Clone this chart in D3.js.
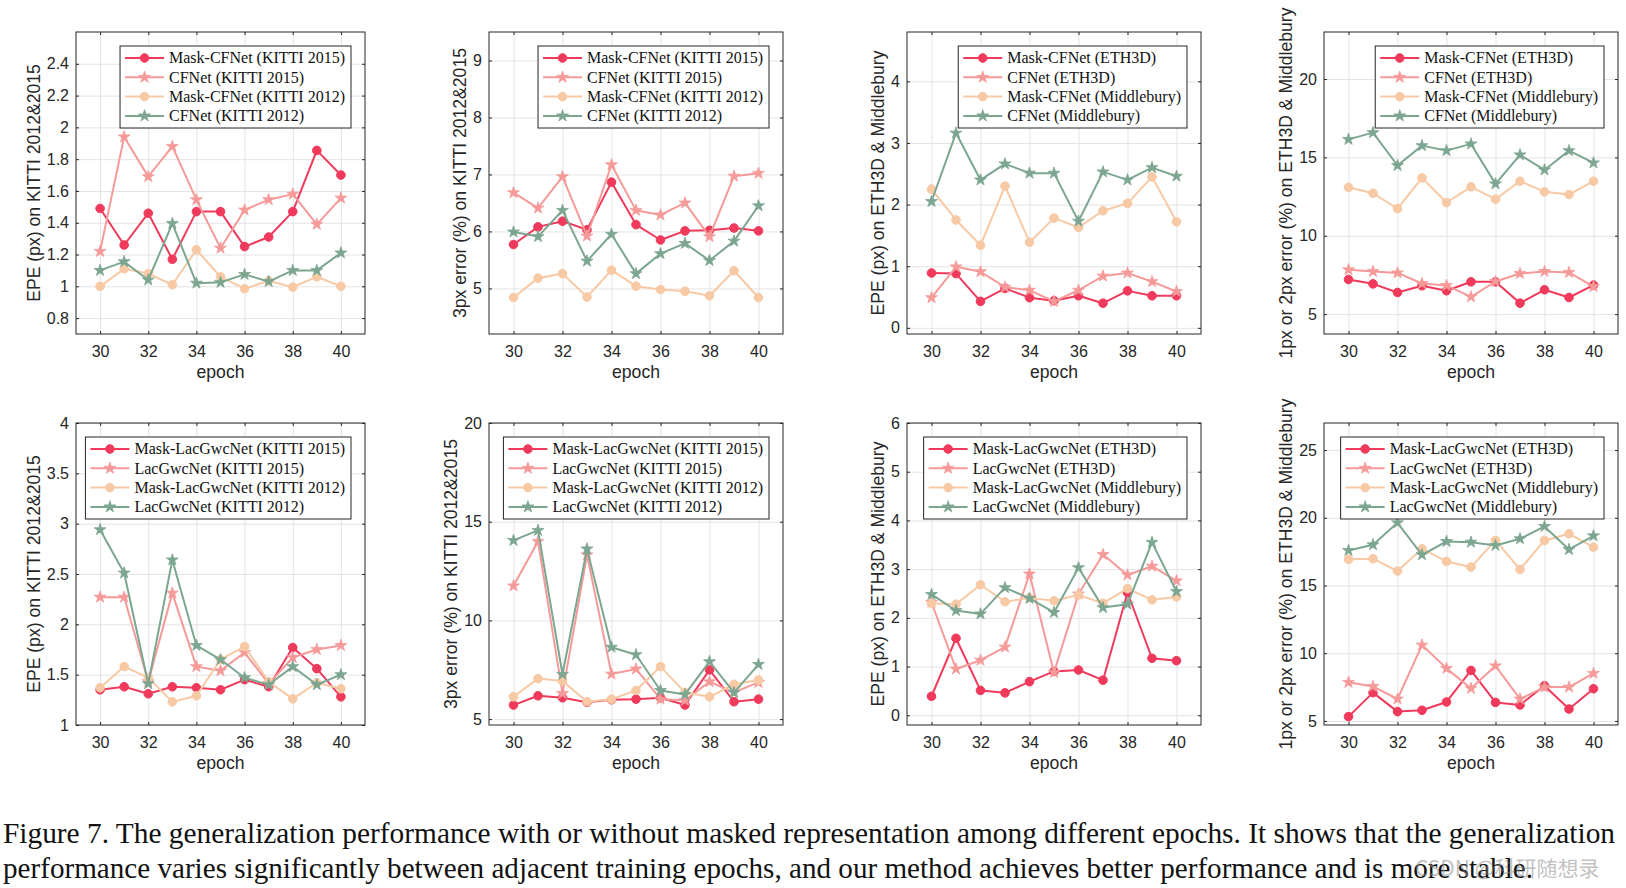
<!DOCTYPE html>
<html><head><meta charset="utf-8">
<script src="https://cdn.jsdelivr.net/npm/d3@7"></script>
<style>body{margin:0;background:#fff}</style>
</head><body><svg id="c" width="1626" height="888"></svg>
<script>
// ---------------- data ----------------
const epochs = [30,31,32,33,34,35,36,37,38,39,40];
const xTicks = [30,32,34,36,38,40];

// Panel 1: EPE KITTI (CFNet)
const p1MaskK15 = [1.49,1.26,1.46,1.17,1.47,1.47,1.25,1.31,1.47,1.855,1.70];
const p1CFK15   = [1.22,1.94,1.69,1.88,1.545,1.24,1.48,1.545,1.58,1.39,1.555];
const p1MaskK12 = [1.00,1.11,1.08,1.01,1.23,1.06,0.985,1.035,0.995,1.06,1.00];
const p1CFK12   = [1.10,1.155,1.04,1.395,1.02,1.025,1.075,1.03,1.10,1.10,1.21];
// Panel 2: 3px KITTI (CFNet)
const p2MaskK15 = [5.77,6.08,6.18,6.03,6.865,6.12,5.85,6.01,6.02,6.06,6.01];
const p2CFK15   = [6.68,6.41,6.96,5.92,7.17,6.37,6.29,6.50,5.91,6.97,7.02];
const p2MaskK12 = [4.84,5.18,5.26,4.85,5.32,5.04,4.98,4.95,4.87,5.31,4.84];
const p2CFK12   = [5.99,5.91,6.37,5.48,5.95,5.26,5.61,5.79,5.49,5.83,6.45];
// Panel 3: EPE ETH3D & Middlebury (CFNet)
const p3MaskE = [0.89,0.88,0.43,0.64,0.49,0.44,0.52,0.40,0.60,0.52,0.52];
const p3CFE   = [0.49,0.99,0.91,0.66,0.61,0.43,0.61,0.84,0.89,0.75,0.59];
const p3MaskM = [2.25,1.75,1.34,2.30,1.39,1.78,1.63,1.90,2.02,2.45,1.72];
const p3CFM   = [2.05,3.16,2.40,2.66,2.51,2.51,1.73,2.53,2.40,2.60,2.46];
// Panel 4: 1px/2px ETH3D & Middlebury (CFNet)
const p4MaskE = [7.21,6.93,6.38,6.81,6.49,7.06,7.06,5.70,6.55,6.06,6.85];
const p4CFE   = [7.83,7.72,7.63,6.95,6.83,6.10,7.08,7.59,7.72,7.66,6.76];
const p4MaskM = [13.09,12.71,11.73,13.69,12.12,13.12,12.33,13.48,12.80,12.63,13.48];
const p4CFM   = [16.15,16.58,14.48,15.75,15.43,15.86,13.31,15.16,14.20,15.43,14.65];
// Panel 5: EPE KITTI (LacGwcNet)
const p5MaskK15 = [1.35,1.38,1.31,1.38,1.37,1.35,1.45,1.38,1.77,1.56,1.28];
const p5LacK15  = [2.27,2.27,1.43,2.31,1.58,1.54,1.72,1.41,1.67,1.75,1.79];
const p5MaskK12 = [1.37,1.58,1.47,1.23,1.29,1.65,1.78,1.43,1.26,1.42,1.36];
const p5LacK12  = [2.94,2.51,1.41,2.64,1.79,1.65,1.47,1.40,1.58,1.40,1.50];
// Panel 6: 3px KITTI (LacGwcNet)
const p6MaskK15 = [5.71,6.18,6.08,5.85,5.98,6.01,6.08,5.71,7.49,5.88,6.01];
const p6LacK15  = [11.75,14.0,6.30,13.32,7.28,7.54,6.01,5.95,6.89,6.35,6.86];
const p6MaskK12 = [6.13,7.05,6.93,5.88,6.01,6.45,7.66,6.35,6.13,6.76,6.98];
const p6LacK12  = [14.05,14.56,7.27,13.62,8.64,8.26,6.45,6.25,7.91,6.34,7.77];
// Panel 7: EPE ETH3D & Middlebury (LacGwcNet)
const p7MaskE = [0.39,1.58,0.51,0.46,0.69,0.90,0.93,0.72,2.52,1.17,1.12];
const p7LacE  = [2.32,0.95,1.13,1.40,2.90,0.88,2.49,3.30,2.88,3.06,2.76];
const p7MaskM = [2.30,2.28,2.68,2.33,2.41,2.35,2.47,2.30,2.60,2.37,2.43];
const p7LacM  = [2.48,2.15,2.08,2.62,2.40,2.11,3.03,2.21,2.28,3.55,2.54];
// Panel 8: 1px/2px ETH3D & Middlebury (LacGwcNet)
const p8MaskE = [5.32,7.09,5.69,5.79,6.40,8.73,6.37,6.18,7.60,5.88,7.38];
const p8LacE  = [7.85,7.55,6.62,10.60,8.88,7.40,9.07,6.62,7.50,7.50,8.51];
const p8MaskM = [16.93,16.98,16.07,17.71,16.78,16.36,18.33,16.19,18.33,18.82,17.83];
const p8LacM  = [17.59,18.01,19.63,17.27,18.25,18.20,17.96,18.45,19.36,17.66,18.67];

// tick labels
const yTicks1 = [0.8,1,1.2,1.4,1.6,1.8,2,2.2,2.4];
const yTicks2 = [5,6,7,8,9];
const yTicks3 = [0,1,2,3,4];
const yTicks4 = [5,10,15,20];
const yTicks5 = [1,1.5,2,2.5,3,3.5,4];
const yTicks6 = [5,10,15,20];
const yTicks7 = [0,1,2,3,4,5,6];
const yTicks8 = [5,10,15,20,25];

const yDomains = [[0.7,2.6],[4.2,9.5],[-0.1,4.8],[3.73,23],[1,4],[4.7,20],[-0.2,6],[4.7,27]];

const yLabels = [
  "EPE (px) on KITTI 2012&2015",
  "3px error (%) on KITTI 2012&2015",
  "EPE (px) on ETH3D & Middlebury",
  "1px or 2px error (%) on ETH3D & Middlebury",
  "EPE (px) on KITTI 2012&2015",
  "3px error (%) on KITTI 2012&2015",
  "EPE (px) on ETH3D & Middlebury",
  "1px or 2px error (%) on ETH3D & Middlebury"
];
const legend1 = ["Mask-CFNet (KITTI 2015)","CFNet (KITTI 2015)","Mask-CFNet (KITTI 2012)","CFNet (KITTI 2012)"];
const legend2 = ["Mask-CFNet (ETH3D)","CFNet (ETH3D)","Mask-CFNet (Middlebury)","CFNet (Middlebury)"];
const legend3 = ["Mask-LacGwcNet (KITTI 2015)","LacGwcNet (KITTI 2015)","Mask-LacGwcNet (KITTI 2012)","LacGwcNet (KITTI 2012)"];
const legend4 = ["Mask-LacGwcNet (ETH3D)","LacGwcNet (ETH3D)","Mask-LacGwcNet (Middlebury)","LacGwcNet (Middlebury)"];

const captionLines = [
  "Figure 7. The generalization performance with or without masked representation among different epochs. It shows that the generalization",
  "performance varies significantly between adjacent training epochs, and our method achieves better performance and is more stable."
];
const watermark = "CSDN @科研随想录";

// ---------------- style / layout ----------------
const seriesColors = ["#EF3A5C","#F59A99","#F8C9A5","#7CA690"];
const seriesMarkers = ["circle","star","circle","star"];

const layout = [
  {l:76,r:365,t:32,b:334},{l:489,r:783,t:32,b:334},{l:907,r:1201,t:32,b:334},{l:1324,r:1618,t:32,b:334},
  {l:76,r:365,t:423,b:725},{l:489,r:783,t:423,b:725},{l:907,r:1201,t:423,b:725},{l:1324,r:1618,t:423,b:725}
];
const captionWidths = [1612,1530];

const panels = [
  {yticks:yTicks1, names:legend1, data:[p1MaskK15,p1CFK15,p1MaskK12,p1CFK12]},
  {yticks:yTicks2, names:legend1, data:[p2MaskK15,p2CFK15,p2MaskK12,p2CFK12]},
  {yticks:yTicks3, names:legend2, data:[p3MaskE,p3CFE,p3MaskM,p3CFM]},
  {yticks:yTicks4, names:legend2, data:[p4MaskE,p4CFE,p4MaskM,p4CFM]},
  {yticks:yTicks5, names:legend3, data:[p5MaskK15,p5LacK15,p5MaskK12,p5LacK12]},
  {yticks:yTicks6, names:legend3, data:[p6MaskK15,p6LacK15,p6MaskK12,p6LacK12]},
  {yticks:yTicks7, names:legend4, data:[p7MaskE,p7LacE,p7MaskM,p7LacM]},
  {yticks:yTicks8, names:legend4, data:[p8MaskE,p8LacE,p8MaskM,p8LacM]}
];

const SANS = "'Liberation Sans', Arial, Helvetica, sans-serif";
const SERIF = "'Liberation Serif', 'Times New Roman', serif";
const AX = "#262626";

const svg = d3.select("#c");
svg.append("rect").attr("width",1626).attr("height",888).attr("fill","#fff");

function marker(g, type, color, cx, cy){
  if(type==="circle"){
    g.append("circle").attr("cx",cx).attr("cy",cy).attr("r",4.3)
      .attr("fill",color).attr("stroke",color).attr("stroke-width",1);
  } else {
    g.append("path").attr("d", d3.symbol(d3.symbolStar, 44)())
      .attr("transform",`translate(${cx},${cy})`)
      .attr("fill",color).attr("stroke",color).attr("stroke-width",0.8).attr("stroke-linejoin","round");
  }
}

panels.forEach((p,i)=>{
  const L = layout[i];
  const W = L.r-L.l, H = L.b-L.t;
  const x = d3.scaleLinear().domain([29,41]).range([0,W]);
  const y = d3.scaleLinear().domain(yDomains[i]).range([H,0]);
  const g = svg.append("g").attr("transform",`translate(${L.l},${L.t})`);

  // grid
  const gx = g.append("g").attr("transform",`translate(0,${H})`)
    .call(d3.axisBottom(x).tickValues(xTicks).tickSize(-H).tickFormat(""));
  const gy = g.append("g").call(d3.axisLeft(y).tickValues(p.yticks).tickSize(-W).tickFormat(""));
  [gx,gy].forEach(a=>{a.select(".domain").remove(); a.selectAll("line").attr("stroke","#e4e4e4").attr("stroke-width",1);});

  // axes with inside ticks
  const ab = g.append("g").attr("transform",`translate(0,${H})`)
    .call(d3.axisBottom(x).tickValues(xTicks).tickSizeInner(-3).tickSizeOuter(0).tickPadding(12).tickFormat(d3.format("d")));
  const at = g.append("g").call(d3.axisTop(x).tickValues(xTicks).tickSizeInner(-3).tickSizeOuter(0).tickFormat(""));
  const al = g.append("g")
    .call(d3.axisLeft(y).tickValues(p.yticks).tickSizeInner(-3).tickSizeOuter(0).tickPadding(7).tickFormat(d=>String(d)));
  const ar = g.append("g").attr("transform",`translate(${W},0)`)
    .call(d3.axisRight(y).tickValues(p.yticks).tickSizeInner(-3).tickSizeOuter(0).tickFormat(""));
  [ab,at,al,ar].forEach(a=>{
    a.select(".domain").remove();
    a.selectAll("line").attr("stroke",AX).attr("stroke-width",1);
    a.selectAll("text").attr("fill",AX).style("font-family",SANS).style("font-size","16px");
  });

  // box
  g.append("rect").attr("x",0).attr("y",0).attr("width",W).attr("height",H)
    .attr("fill","none").attr("stroke",AX).attr("stroke-width",1);

  // series
  const line = d3.line().x((d,k)=>x(epochs[k])).y(d=>y(d));
  p.data.forEach((vals,s)=>{
    const sg = g.append("g");
    sg.append("path").datum(vals).attr("d",line).attr("fill","none")
      .attr("stroke",seriesColors[s]).attr("stroke-width",2).attr("stroke-linejoin","round");
    vals.forEach((v,k)=>marker(sg, seriesMarkers[s], seriesColors[s], x(epochs[k]), y(v)));
  });

  // y label
  let maxW = 0;
  al.selectAll("text").each(function(){ maxW = Math.max(maxW, this.getComputedTextLength()); });
  g.append("text").attr("transform",`translate(${-7-maxW-13},${H/2}) rotate(-90)`)
    .attr("text-anchor","middle").attr("dy","0.35em")
    .style("font-family",SANS).style("font-size","17.6px").attr("fill",AX).text(yLabels[i]);
  // x label
  g.append("text").attr("x",W/2).attr("y",H+39).attr("dy","0.3em").attr("text-anchor","middle")
    .style("font-family",SANS).style("font-size","17.6px").attr("fill",AX).text("epoch");

  // legend
  const lg = g.append("g");
  const tmp = [];
  p.names.forEach((n)=>{
    const t = lg.append("text").style("font-family",SERIF).style("font-size","16px").text(n);
    tmp.push(t);
  });
  let tw = 0; tmp.forEach(t=>tw=Math.max(tw,t.node().getComputedTextLength()));
  const lw = 5+39+5+tw+6, lh = 82;
  const lx = W-14-lw, ly = 14;
  lg.insert("rect",":first-child").attr("x",lx).attr("y",ly).attr("width",lw).attr("height",lh)
    .attr("fill","#fff").attr("stroke",AX).attr("stroke-width",1);
  p.names.forEach((n,s)=>{
    const cy = ly + 12 + s*19.3;
    lg.append("line").attr("x1",lx+5).attr("x2",lx+44).attr("y1",cy).attr("y2",cy)
      .attr("stroke",seriesColors[s]).attr("stroke-width",2);
    marker(lg, seriesMarkers[s], seriesColors[s], lx+24.5, cy);
    tmp[s].attr("x",lx+49).attr("y",cy).attr("dy","0.33em").attr("fill","#111");
    lg.node().appendChild(tmp[s].node());
  });
});

// caption
captionLines.forEach((t,k)=>{
  svg.append("text").attr("x",3).attr("y",843+k*35)
    .attr("textLength",captionWidths[k]).attr("lengthAdjust","spacingAndGlyphs")
    .style("font-family",SERIF).style("font-size","28.5px").attr("fill","#111").text(t);
});
svg.append("text").attr("x",1415).attr("y",876)
  .style("font-family","'Noto Sans CJK SC', sans-serif").style("font-size","21px")
  .attr("fill","rgba(140,140,140,0.55)").text(watermark);
</script>
</body></html>
